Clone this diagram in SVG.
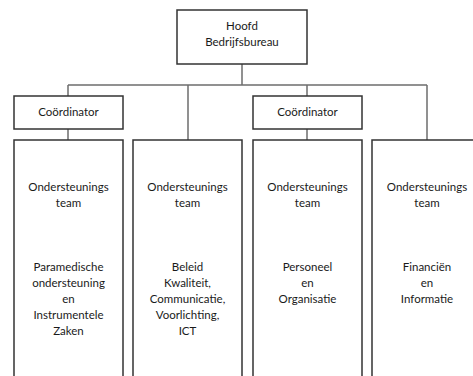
<svg xmlns="http://www.w3.org/2000/svg" width="473" height="376" viewBox="0 0 473 376">
<style>
.box{fill:#fff;stroke:#333;stroke-width:1.5}
.con{fill:none;stroke:#6e6e6e;stroke-width:1.5}
text{font-family:Lato,"Open Sans","DejaVu Sans",sans-serif;font-size:11.5px;fill:#1a1a1a;text-anchor:middle}
</style>
<rect width="473" height="376" fill="#fff"/>
<g id="connectors">
<path class="con" d="M242,64V85M68,85H427M68,85V96M188,85V140M307,85V96M427,85V140M68,129V140M307,129V140"/>
</g>
<g id="hoofd">
<rect class="box" x="177" y="10" width="130" height="54"/>
<text x="242" y="30">Hoofd</text>
<text x="242" y="46">Bedrijfsbureau</text>
</g>
<g id="coord1">
<rect class="box" x="14" y="96" width="109" height="33"/>
<text x="68.5" y="116">Coördinator</text>
</g>
<g id="coord2">
<rect class="box" x="253" y="96" width="109" height="33"/>
<text x="307.5" y="116">Coördinator</text>
</g>
<g id="team1">
<rect class="box" x="14" y="140" width="109" height="250"/>
<text x="68.5" y="191">Ondersteunings</text>
<text x="68.5" y="207">team</text>
<text x="68.5" y="271">Paramedische</text>
<text x="68.5" y="287">ondersteuning</text>
<text x="68.5" y="303">en</text>
<text x="68.5" y="319">Instrumentele</text>
<text x="68.5" y="335">Zaken</text>
</g>
<g id="team2">
<rect class="box" x="133" y="140" width="109" height="250"/>
<text x="187.5" y="191">Ondersteunings</text>
<text x="187.5" y="207">team</text>
<text x="187.5" y="271">Beleid</text>
<text x="187.5" y="287">Kwaliteit,</text>
<text x="187.5" y="303">Communicatie,</text>
<text x="187.5" y="319">Voorlichting,</text>
<text x="187.5" y="335">ICT</text>
</g>
<g id="team3">
<rect class="box" x="253" y="140" width="109" height="250"/>
<text x="307.5" y="191">Ondersteunings</text>
<text x="307.5" y="207">team</text>
<text x="307.5" y="271">Personeel</text>
<text x="307.5" y="287">en</text>
<text x="307.5" y="303">Organisatie</text>
</g>
<g id="team4">
<rect class="box" x="372" y="140" width="110" height="250"/>
<text x="427" y="191">Ondersteunings</text>
<text x="427" y="207">team</text>
<text x="427" y="271">Financiën</text>
<text x="427" y="287">en</text>
<text x="427" y="303">Informatie</text>
</g>
</svg>
